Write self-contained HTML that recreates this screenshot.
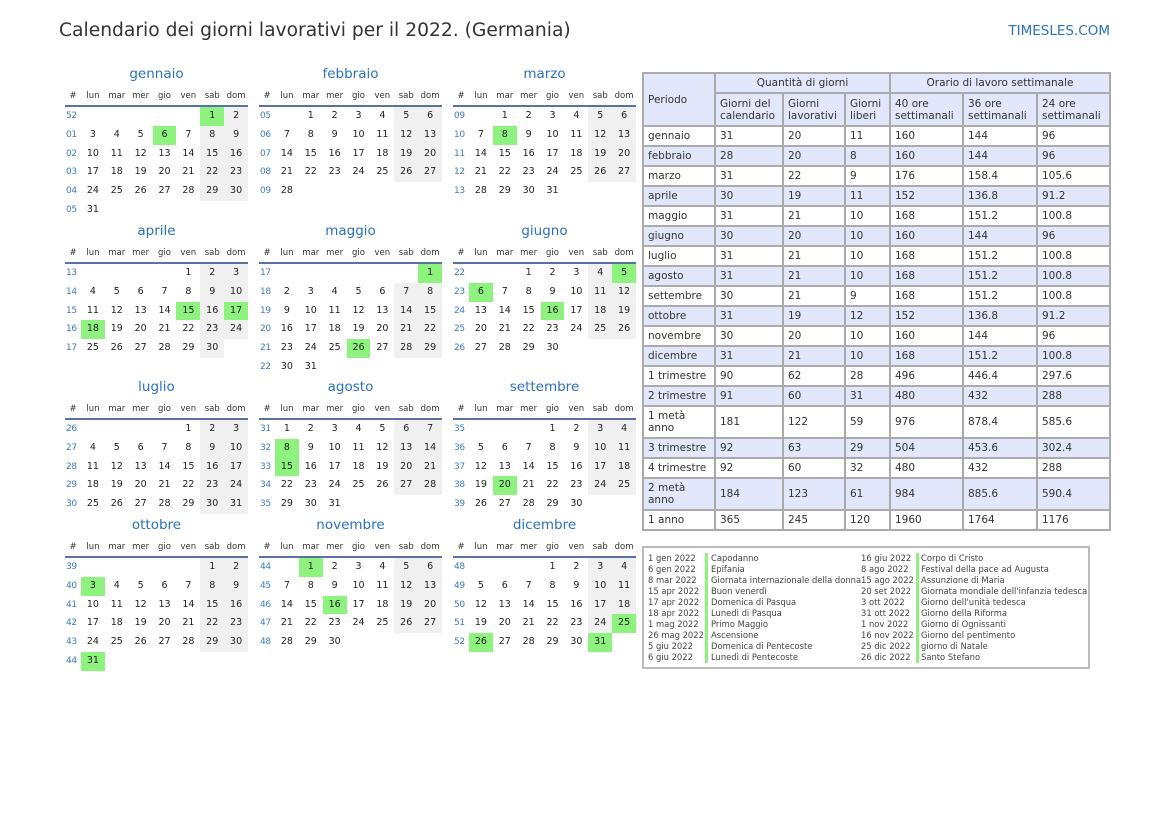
<!DOCTYPE html>
<html><head><meta charset="utf-8"><style>
*{margin:0;padding:0;box-sizing:border-box}
body{width:1169px;height:827px;background:#fff;font-family:"DejaVu Sans","Liberation Sans",sans-serif;position:relative;overflow:hidden;color:#222}
.t{position:absolute;left:59px;top:20px;font-size:18.7px;color:#333}
.s{position:absolute;right:59px;top:23px;font-size:13.5px;color:#2a72c0}
.m{position:absolute;width:183px}
.m .n{height:20px;line-height:20px;text-align:center;color:#2a72c0;font-size:13.5px}
.m .hd{height:19px;margin-top:4px;display:flex;font-size:8.5px;color:#333;border-bottom:2px solid #5873a3;line-height:17px}
.r{display:flex;height:18.75px;line-height:18.75px;font-size:9.5px}
.hd>*,.r>*{width:23.86px;text-align:center;font-style:normal;font-weight:normal}
.hd>*:first-child,.r>i{width:16px}
.r>i{color:#3a7cc0;text-align:left;padding-left:1px;font-size:9px;letter-spacing:-0.3px}
.w{background:#f0f0f0}
.g{background:#8ef27f}
table.d{position:absolute;left:642px;top:72px;border-collapse:collapse;font-size:10.5px;color:#333}
table.d td{border:2px solid #aaa;padding:0 0 0 4px;vertical-align:middle;line-height:12px}
table.d tr{height:20px}
.l{background:#e3e7fb}
.lg{position:absolute;left:642px;top:546px;width:448px;height:123px;border:2px solid #bbb;font-size:8.4px;color:#444}
.lg div{position:absolute;white-space:nowrap;line-height:11px}
.bar{position:absolute;width:3px;background:#8ef27f}
</style></head><body>
<div class="t">Calendario dei giorni lavorativi per il 2022. (Germania)</div>
<div class="s">TIMESLES.COM</div>

<div class="m" style="left:65px;top:64px"><div class="n">gennaio</div><div class="hd"><span>#</span><span>lun</span><span>mar</span><span>mer</span><span>gio</span><span>ven</span><span>sab</span><span>dom</span></div>
<div class="r"><i>52</i><b></b><b></b><b></b><b></b><b></b><b class="g">1</b><b class="w">2</b></div>
<div class="r"><i>01</i><b>3</b><b>4</b><b>5</b><b class="g">6</b><b>7</b><b class="w">8</b><b class="w">9</b></div>
<div class="r"><i>02</i><b>10</b><b>11</b><b>12</b><b>13</b><b>14</b><b class="w">15</b><b class="w">16</b></div>
<div class="r"><i>03</i><b>17</b><b>18</b><b>19</b><b>20</b><b>21</b><b class="w">22</b><b class="w">23</b></div>
<div class="r"><i>04</i><b>24</b><b>25</b><b>26</b><b>27</b><b>28</b><b class="w">29</b><b class="w">30</b></div>
<div class="r"><i>05</i><b>31</b></div></div>

<div class="m" style="left:259px;top:64px"><div class="n">febbraio</div><div class="hd"><span>#</span><span>lun</span><span>mar</span><span>mer</span><span>gio</span><span>ven</span><span>sab</span><span>dom</span></div>
<div class="r"><i>05</i><b></b><b>1</b><b>2</b><b>3</b><b>4</b><b class="w">5</b><b class="w">6</b></div>
<div class="r"><i>06</i><b>7</b><b>8</b><b>9</b><b>10</b><b>11</b><b class="w">12</b><b class="w">13</b></div>
<div class="r"><i>07</i><b>14</b><b>15</b><b>16</b><b>17</b><b>18</b><b class="w">19</b><b class="w">20</b></div>
<div class="r"><i>08</i><b>21</b><b>22</b><b>23</b><b>24</b><b>25</b><b class="w">26</b><b class="w">27</b></div>
<div class="r"><i>09</i><b>28</b></div></div>

<div class="m" style="left:453px;top:64px"><div class="n">marzo</div><div class="hd"><span>#</span><span>lun</span><span>mar</span><span>mer</span><span>gio</span><span>ven</span><span>sab</span><span>dom</span></div>
<div class="r"><i>09</i><b></b><b>1</b><b>2</b><b>3</b><b>4</b><b class="w">5</b><b class="w">6</b></div>
<div class="r"><i>10</i><b>7</b><b class="g">8</b><b>9</b><b>10</b><b>11</b><b class="w">12</b><b class="w">13</b></div>
<div class="r"><i>11</i><b>14</b><b>15</b><b>16</b><b>17</b><b>18</b><b class="w">19</b><b class="w">20</b></div>
<div class="r"><i>12</i><b>21</b><b>22</b><b>23</b><b>24</b><b>25</b><b class="w">26</b><b class="w">27</b></div>
<div class="r"><i>13</i><b>28</b><b>29</b><b>30</b><b>31</b></div></div>

<div class="m" style="left:65px;top:221px"><div class="n">aprile</div><div class="hd"><span>#</span><span>lun</span><span>mar</span><span>mer</span><span>gio</span><span>ven</span><span>sab</span><span>dom</span></div>
<div class="r"><i>13</i><b></b><b></b><b></b><b></b><b>1</b><b class="w">2</b><b class="w">3</b></div>
<div class="r"><i>14</i><b>4</b><b>5</b><b>6</b><b>7</b><b>8</b><b class="w">9</b><b class="w">10</b></div>
<div class="r"><i>15</i><b>11</b><b>12</b><b>13</b><b>14</b><b class="g">15</b><b class="w">16</b><b class="g">17</b></div>
<div class="r"><i>16</i><b class="g">18</b><b>19</b><b>20</b><b>21</b><b>22</b><b class="w">23</b><b class="w">24</b></div>
<div class="r"><i>17</i><b>25</b><b>26</b><b>27</b><b>28</b><b>29</b><b class="w">30</b></div></div>

<div class="m" style="left:259px;top:221px"><div class="n">maggio</div><div class="hd"><span>#</span><span>lun</span><span>mar</span><span>mer</span><span>gio</span><span>ven</span><span>sab</span><span>dom</span></div>
<div class="r"><i>17</i><b></b><b></b><b></b><b></b><b></b><b></b><b class="g">1</b></div>
<div class="r"><i>18</i><b>2</b><b>3</b><b>4</b><b>5</b><b>6</b><b class="w">7</b><b class="w">8</b></div>
<div class="r"><i>19</i><b>9</b><b>10</b><b>11</b><b>12</b><b>13</b><b class="w">14</b><b class="w">15</b></div>
<div class="r"><i>20</i><b>16</b><b>17</b><b>18</b><b>19</b><b>20</b><b class="w">21</b><b class="w">22</b></div>
<div class="r"><i>21</i><b>23</b><b>24</b><b>25</b><b class="g">26</b><b>27</b><b class="w">28</b><b class="w">29</b></div>
<div class="r"><i>22</i><b>30</b><b>31</b></div></div>

<div class="m" style="left:453px;top:221px"><div class="n">giugno</div><div class="hd"><span>#</span><span>lun</span><span>mar</span><span>mer</span><span>gio</span><span>ven</span><span>sab</span><span>dom</span></div>
<div class="r"><i>22</i><b></b><b></b><b>1</b><b>2</b><b>3</b><b class="w">4</b><b class="g">5</b></div>
<div class="r"><i>23</i><b class="g">6</b><b>7</b><b>8</b><b>9</b><b>10</b><b class="w">11</b><b class="w">12</b></div>
<div class="r"><i>24</i><b>13</b><b>14</b><b>15</b><b class="g">16</b><b>17</b><b class="w">18</b><b class="w">19</b></div>
<div class="r"><i>25</i><b>20</b><b>21</b><b>22</b><b>23</b><b>24</b><b class="w">25</b><b class="w">26</b></div>
<div class="r"><i>26</i><b>27</b><b>28</b><b>29</b><b>30</b></div></div>

<div class="m" style="left:65px;top:377px"><div class="n">luglio</div><div class="hd"><span>#</span><span>lun</span><span>mar</span><span>mer</span><span>gio</span><span>ven</span><span>sab</span><span>dom</span></div>
<div class="r"><i>26</i><b></b><b></b><b></b><b></b><b>1</b><b class="w">2</b><b class="w">3</b></div>
<div class="r"><i>27</i><b>4</b><b>5</b><b>6</b><b>7</b><b>8</b><b class="w">9</b><b class="w">10</b></div>
<div class="r"><i>28</i><b>11</b><b>12</b><b>13</b><b>14</b><b>15</b><b class="w">16</b><b class="w">17</b></div>
<div class="r"><i>29</i><b>18</b><b>19</b><b>20</b><b>21</b><b>22</b><b class="w">23</b><b class="w">24</b></div>
<div class="r"><i>30</i><b>25</b><b>26</b><b>27</b><b>28</b><b>29</b><b class="w">30</b><b class="w">31</b></div></div>

<div class="m" style="left:259px;top:377px"><div class="n">agosto</div><div class="hd"><span>#</span><span>lun</span><span>mar</span><span>mer</span><span>gio</span><span>ven</span><span>sab</span><span>dom</span></div>
<div class="r"><i>31</i><b>1</b><b>2</b><b>3</b><b>4</b><b>5</b><b class="w">6</b><b class="w">7</b></div>
<div class="r"><i>32</i><b class="g">8</b><b>9</b><b>10</b><b>11</b><b>12</b><b class="w">13</b><b class="w">14</b></div>
<div class="r"><i>33</i><b class="g">15</b><b>16</b><b>17</b><b>18</b><b>19</b><b class="w">20</b><b class="w">21</b></div>
<div class="r"><i>34</i><b>22</b><b>23</b><b>24</b><b>25</b><b>26</b><b class="w">27</b><b class="w">28</b></div>
<div class="r"><i>35</i><b>29</b><b>30</b><b>31</b></div></div>

<div class="m" style="left:453px;top:377px"><div class="n">settembre</div><div class="hd"><span>#</span><span>lun</span><span>mar</span><span>mer</span><span>gio</span><span>ven</span><span>sab</span><span>dom</span></div>
<div class="r"><i>35</i><b></b><b></b><b></b><b>1</b><b>2</b><b class="w">3</b><b class="w">4</b></div>
<div class="r"><i>36</i><b>5</b><b>6</b><b>7</b><b>8</b><b>9</b><b class="w">10</b><b class="w">11</b></div>
<div class="r"><i>37</i><b>12</b><b>13</b><b>14</b><b>15</b><b>16</b><b class="w">17</b><b class="w">18</b></div>
<div class="r"><i>38</i><b>19</b><b class="g">20</b><b>21</b><b>22</b><b>23</b><b class="w">24</b><b class="w">25</b></div>
<div class="r"><i>39</i><b>26</b><b>27</b><b>28</b><b>29</b><b>30</b></div></div>

<div class="m" style="left:65px;top:515px"><div class="n">ottobre</div><div class="hd"><span>#</span><span>lun</span><span>mar</span><span>mer</span><span>gio</span><span>ven</span><span>sab</span><span>dom</span></div>
<div class="r"><i>39</i><b></b><b></b><b></b><b></b><b></b><b class="w">1</b><b class="w">2</b></div>
<div class="r"><i>40</i><b class="g">3</b><b>4</b><b>5</b><b>6</b><b>7</b><b class="w">8</b><b class="w">9</b></div>
<div class="r"><i>41</i><b>10</b><b>11</b><b>12</b><b>13</b><b>14</b><b class="w">15</b><b class="w">16</b></div>
<div class="r"><i>42</i><b>17</b><b>18</b><b>19</b><b>20</b><b>21</b><b class="w">22</b><b class="w">23</b></div>
<div class="r"><i>43</i><b>24</b><b>25</b><b>26</b><b>27</b><b>28</b><b class="w">29</b><b class="w">30</b></div>
<div class="r"><i>44</i><b class="g">31</b></div></div>

<div class="m" style="left:259px;top:515px"><div class="n">novembre</div><div class="hd"><span>#</span><span>lun</span><span>mar</span><span>mer</span><span>gio</span><span>ven</span><span>sab</span><span>dom</span></div>
<div class="r"><i>44</i><b></b><b class="g">1</b><b>2</b><b>3</b><b>4</b><b class="w">5</b><b class="w">6</b></div>
<div class="r"><i>45</i><b>7</b><b>8</b><b>9</b><b>10</b><b>11</b><b class="w">12</b><b class="w">13</b></div>
<div class="r"><i>46</i><b>14</b><b>15</b><b class="g">16</b><b>17</b><b>18</b><b class="w">19</b><b class="w">20</b></div>
<div class="r"><i>47</i><b>21</b><b>22</b><b>23</b><b>24</b><b>25</b><b class="w">26</b><b class="w">27</b></div>
<div class="r"><i>48</i><b>28</b><b>29</b><b>30</b></div></div>

<div class="m" style="left:453px;top:515px"><div class="n">dicembre</div><div class="hd"><span>#</span><span>lun</span><span>mar</span><span>mer</span><span>gio</span><span>ven</span><span>sab</span><span>dom</span></div>
<div class="r"><i>48</i><b></b><b></b><b></b><b>1</b><b>2</b><b class="w">3</b><b class="w">4</b></div>
<div class="r"><i>49</i><b>5</b><b>6</b><b>7</b><b>8</b><b>9</b><b class="w">10</b><b class="w">11</b></div>
<div class="r"><i>50</i><b>12</b><b>13</b><b>14</b><b>15</b><b>16</b><b class="w">17</b><b class="w">18</b></div>
<div class="r"><i>51</i><b>19</b><b>20</b><b>21</b><b>22</b><b>23</b><b class="w">24</b><b class="g">25</b></div>
<div class="r"><i>52</i><b class="g">26</b><b>27</b><b>28</b><b>29</b><b>30</b><b class="g">31</b></div></div>

<table class="d">
<colgroup><col style="width:72px"><col style="width:68px"><col style="width:62px"><col style="width:45px"><col style="width:73px"><col style="width:74px"><col style="width:73px"></colgroup>
<tr class="l"><td rowspan="2" style="height:53px">Periodo</td><td colspan="3" style="text-align:center;padding:0">Quantità di giorni</td><td colspan="3" style="text-align:center;padding:0">Orario di lavoro settimanale</td></tr>
<tr class="l" style="height:33px"><td>Giorni del<br>calendario</td><td>Giorni<br>lavorativi</td><td>Giorni<br>liberi</td><td>40 ore<br>settimanali</td><td>36 ore<br>settimanali</td><td>24 ore<br>settimanali</td></tr>
<tr><td>gennaio</td><td>31</td><td>20</td><td>11</td><td>160</td><td>144</td><td>96</td></tr>
<tr class="l"><td>febbraio</td><td>28</td><td>20</td><td>8</td><td>160</td><td>144</td><td>96</td></tr>
<tr><td>marzo</td><td>31</td><td>22</td><td>9</td><td>176</td><td>158.4</td><td>105.6</td></tr>
<tr class="l"><td>aprile</td><td>30</td><td>19</td><td>11</td><td>152</td><td>136.8</td><td>91.2</td></tr>
<tr><td>maggio</td><td>31</td><td>21</td><td>10</td><td>168</td><td>151.2</td><td>100.8</td></tr>
<tr class="l"><td>giugno</td><td>30</td><td>20</td><td>10</td><td>160</td><td>144</td><td>96</td></tr>
<tr><td>luglio</td><td>31</td><td>21</td><td>10</td><td>168</td><td>151.2</td><td>100.8</td></tr>
<tr class="l"><td>agosto</td><td>31</td><td>21</td><td>10</td><td>168</td><td>151.2</td><td>100.8</td></tr>
<tr><td>settembre</td><td>30</td><td>21</td><td>9</td><td>168</td><td>151.2</td><td>100.8</td></tr>
<tr class="l"><td>ottobre</td><td>31</td><td>19</td><td>12</td><td>152</td><td>136.8</td><td>91.2</td></tr>
<tr><td>novembre</td><td>30</td><td>20</td><td>10</td><td>160</td><td>144</td><td>96</td></tr>
<tr class="l"><td>dicembre</td><td>31</td><td>21</td><td>10</td><td>168</td><td>151.2</td><td>100.8</td></tr>
<tr><td>1 trimestre</td><td>90</td><td>62</td><td>28</td><td>496</td><td>446.4</td><td>297.6</td></tr>
<tr class="l"><td>2 trimestre</td><td>91</td><td>60</td><td>31</td><td>480</td><td>432</td><td>288</td></tr>
<tr style="height:32px"><td>1 metà<br>anno</td><td>181</td><td>122</td><td>59</td><td>976</td><td>878.4</td><td>585.6</td></tr>
<tr class="l"><td>3 trimestre</td><td>92</td><td>63</td><td>29</td><td>504</td><td>453.6</td><td>302.4</td></tr>
<tr><td>4 trimestre</td><td>92</td><td>60</td><td>32</td><td>480</td><td>432</td><td>288</td></tr>
<tr class="l" style="height:32px"><td>2 metà<br>anno</td><td>184</td><td>123</td><td>61</td><td>984</td><td>885.6</td><td>590.4</td></tr>
<tr><td>1 anno</td><td>365</td><td>245</td><td>120</td><td>1960</td><td>1764</td><td>1176</td></tr>
</table>

<div class="lg">
<div class="bar" style="left:61px;top:5px;height:110px"></div>
<div class="bar" style="left:272px;top:5px;height:110px"></div>
<div style="left:4px;top:5px">1 gen 2022<br>6 gen 2022<br>8 mar 2022<br>15 apr 2022<br>17 apr 2022<br>18 apr 2022<br>1 mag 2022<br>26 mag 2022<br>5 giu 2022<br>6 giu 2022</div>
<div style="left:67px;top:5px">Capodanno<br>Epifania<br>Giornata internazionale della donna<br>Buon venerdì<br>Domenica di Pasqua<br>Lunedì di Pasqua<br>Primo Maggio<br>Ascensione<br>Domenica di Pentecoste<br>Lunedì di Pentecoste</div>
<div style="left:217px;top:5px">16 giu 2022<br>8 ago 2022<br>15 ago 2022<br>20 set 2022<br>3 ott 2022<br>31 ott 2022<br>1 nov 2022<br>16 nov 2022<br>25 dic 2022<br>26 dic 2022</div>
<div style="left:277px;top:5px">Corpo di Cristo<br>Festival della pace ad Augusta<br>Assunzione di Maria<br>Giornata mondiale dell'infanzia tedesca<br>Giorno dell'unità tedesca<br>Giorno della Riforma<br>Giorno di Ognissanti<br>Giorno del pentimento<br>giorno di Natale<br>Santo Stefano</div>
</div>
</body></html>
